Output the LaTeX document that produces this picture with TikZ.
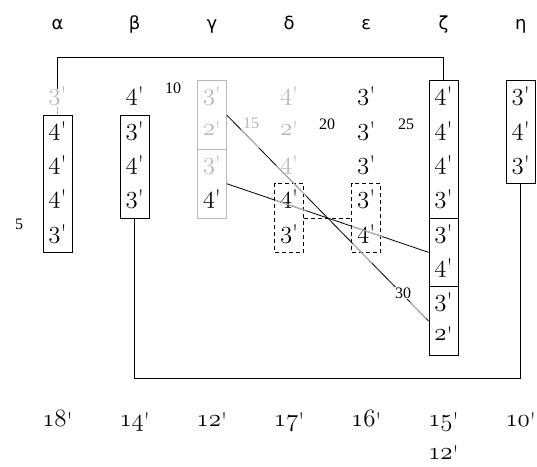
\documentclass[tikz,border=0pt]{standalone}
\usepackage{fontspec}
\newfontfamily\grk{DejaVu Sans}
\newfontfamily\lbl{Liberation Serif}
\usetikzlibrary{calc}
\newcommand\osf[1]{{\fontencoding{OML}\fontfamily{cmm}\fontseries{m}\fontshape{it}\selectfont #1}}
\newcommand\prm{\raisebox{-3pt}{\textquotesingle}}
\newcommand\cellv[1]{\osf{#1}\prm}
\definecolor{lgray}{gray}{0.72}
\tikzset{
  num/.style={inner sep=1.5pt, text height=10.3pt, text depth=4.7pt, font=\fontsize{24}{26}\selectfont},
  gnum/.style={num, text=lgray},
  greek/.style={anchor=base, inner sep=0pt, font=\grk\fontsize{18}{20}\selectfont},
  small/.style={inner sep=1pt, font=\lbl\fontsize{16}{18}\selectfont},
  box/.style={draw, line width=0.9pt, minimum width=29pt, inner sep=0pt},
  gbox/.style={box, draw=lgray},
  dbox/.style={box, line width=0.8pt, dash pattern=on 4pt off 3pt},
  conn/.style={line width=0.8pt},
  gconn/.style={line width=1.1pt, draw=lgray},
}
\begin{document}
\begin{tikzpicture}[x=1pt, y=-1pt]
\useasboundingbox (0,0) rectangle (537,466);
% greek headers
\node[greek] (ha) at (57.5,29) {α};
\node[greek] (hb) at (134.7,29) {β};
\node[greek] (hg) at (211.9,29) {γ};
\node[greek] (hd) at (289.1,29) {δ};
\node[greek] (he) at (366.3,29) {ε};
\node[greek] (hz) at (443.5,29) {ζ};
\node[greek] (hh) at (520.7,29) {η};
% boxes
\node[box, minimum height=137.2pt] (ab) at (57.5,183.75) {};
\node[box, minimum height=102.9pt] (bb) at (134.7,166.6) {};
\node[gbox, minimum height=68.6pt] (gb1) at (211.9,115.15) {};
\node[gbox, minimum height=68.6pt] (gb2) at (211.9,183.75) {};
\node[dbox, minimum height=68.6pt] (db) at (289.1,218.05) {};
\node[dbox, minimum height=68.6pt] (eb) at (366.3,218.05) {};
\node[box, minimum height=137.2pt] (zb1) at (443.5,149.45) {};
\node[box, minimum height=68.6pt] (zb2) at (443.5,252.35) {};
\node[box, minimum height=68.6pt] (zb3) at (443.5,320.95) {};
\node[box, minimum height=102.9pt] (hbx) at (520.7,132.3) {};
% alpha
\node[gnum] (a0) at (57.5,98) {\cellv{3}};
\node[num] (a1) at (57.5,132.3) {\cellv{4}};
\node[num] (a2) at (57.5,166.6) {\cellv{4}};
\node[num] (a3) at (57.5,200.9) {\cellv{4}};
\node[num] (a4) at (57.5,235.2) {\cellv{3}};
% beta
\node[num] (b0) at (134.7,98) {\cellv{4}};
\node[num] (b1) at (134.7,132.3) {\cellv{3}};
\node[num] (b2) at (134.7,166.6) {\cellv{4}};
\node[num] (b3) at (134.7,200.9) {\cellv{3}};
% gamma
\node[gnum] (g1) at (211.9,98) {\cellv{3}};
\node[gnum] (g2) at (211.9,132.3) {\cellv{2}};
\node[gnum] (g3) at (211.9,166.6) {\cellv{3}};
\node[num] (g4) at (211.9,200.9) {\cellv{4}};
% delta
\node[gnum] (d1) at (289.1,98) {\cellv{4}};
\node[gnum] (d2) at (289.1,132.3) {\cellv{2}};
\node[gnum] (d3) at (289.1,166.6) {\cellv{4}};
\node[num] (d4) at (289.1,200.9) {\cellv{4}};
\node[num] (d5) at (289.1,235.2) {\cellv{3}};
% epsilon
\node[num] (e1) at (366.3,98) {\cellv{3}};
\node[num] (e2) at (366.3,132.3) {\cellv{3}};
\node[num] (e3) at (366.3,166.6) {\cellv{3}};
\node[num] (e4) at (366.3,200.9) {\cellv{3}};
\node[num] (e5) at (366.3,235.2) {\cellv{4}};
% zeta
\node[num] (z1) at (443.5,98) {\cellv{4}};
\node[num] (z2) at (443.5,132.3) {\cellv{4}};
\node[num] (z3) at (443.5,166.6) {\cellv{4}};
\node[num] (z4) at (443.5,200.9) {\cellv{3}};
\node[num] (z5) at (443.5,235.2) {\cellv{3}};
\node[num] (z6) at (443.5,269.5) {\cellv{4}};
\node[num] (z7) at (443.5,303.8) {\cellv{3}};
\node[num] (z8) at (443.5,338.1) {\cellv{2}};
% eta
\node[num] (h1) at (520.7,98) {\cellv{3}};
\node[num] (h2) at (520.7,132.3) {\cellv{4}};
\node[num] (h3) at (520.7,166.6) {\cellv{3}};
% connectors
\coordinate (topy) at (0,57);
\coordinate (boty) at (0,378);
\draw[conn] (a0.north) -- (a0.north |- topy) -| (zb1.north);
\draw[conn, draw=lgray] (a0.south) -- (ab.north);
\draw[conn] (bb.south) -- (bb.south |- boty) -| (hbx.south);
\draw[conn, dash pattern=on 4pt off 3pt] (db.east) -- (eb.west);
\draw[conn] (gb1.east) -- (zb3.west);
\foreach \s/\e in {0.07/0.16, 0.245/0.39, 0.625/0.72, 0.91/0.985}
  \draw[gconn] ($(gb1.east)!\s!(zb3.west)$) -- ($(gb1.east)!\e!(zb3.west)$);
\draw[conn] (gb2.east) -- (zb2.west);
\foreach \s/\e in {0.24/0.39, 0.62/0.77}
  \draw[gconn] ($(gb2.east)!\s!(zb2.west)$) -- ($(gb2.east)!\e!(zb2.west)$);
% small labels
\node[small] (l5) at (19,224) {5};
\node[small] (l10) at (173,88) {10};
\node[small, text=lgray] (l15) at (251,123) {15};
\node[small] (l20) at (327,124) {20};
\node[small] (l25) at (406,124) {25};
\node[small, fill=white] (l30) at (403,293) {30};
% bottom totals
\node[num] (t1) at (57.5,424) {\osf{18}\prm};
\node[num] (t2) at (134.7,424) {\osf{14}\prm};
\node[num] (t3) at (211.9,424) {\osf{12}\prm};
\node[num] (t4) at (289.1,424) {\osf{17}\prm};
\node[num] (t5) at (366.3,424) {\osf{16}\prm};
\node[num] (t6) at (443.5,424) {\osf{15}\prm};
\node[num] (t7) at (520.7,424) {\osf{10}\prm};
\node[num] (t8) at (443.5,457) {\osf{12}\prm};
\end{tikzpicture}
\end{document}
